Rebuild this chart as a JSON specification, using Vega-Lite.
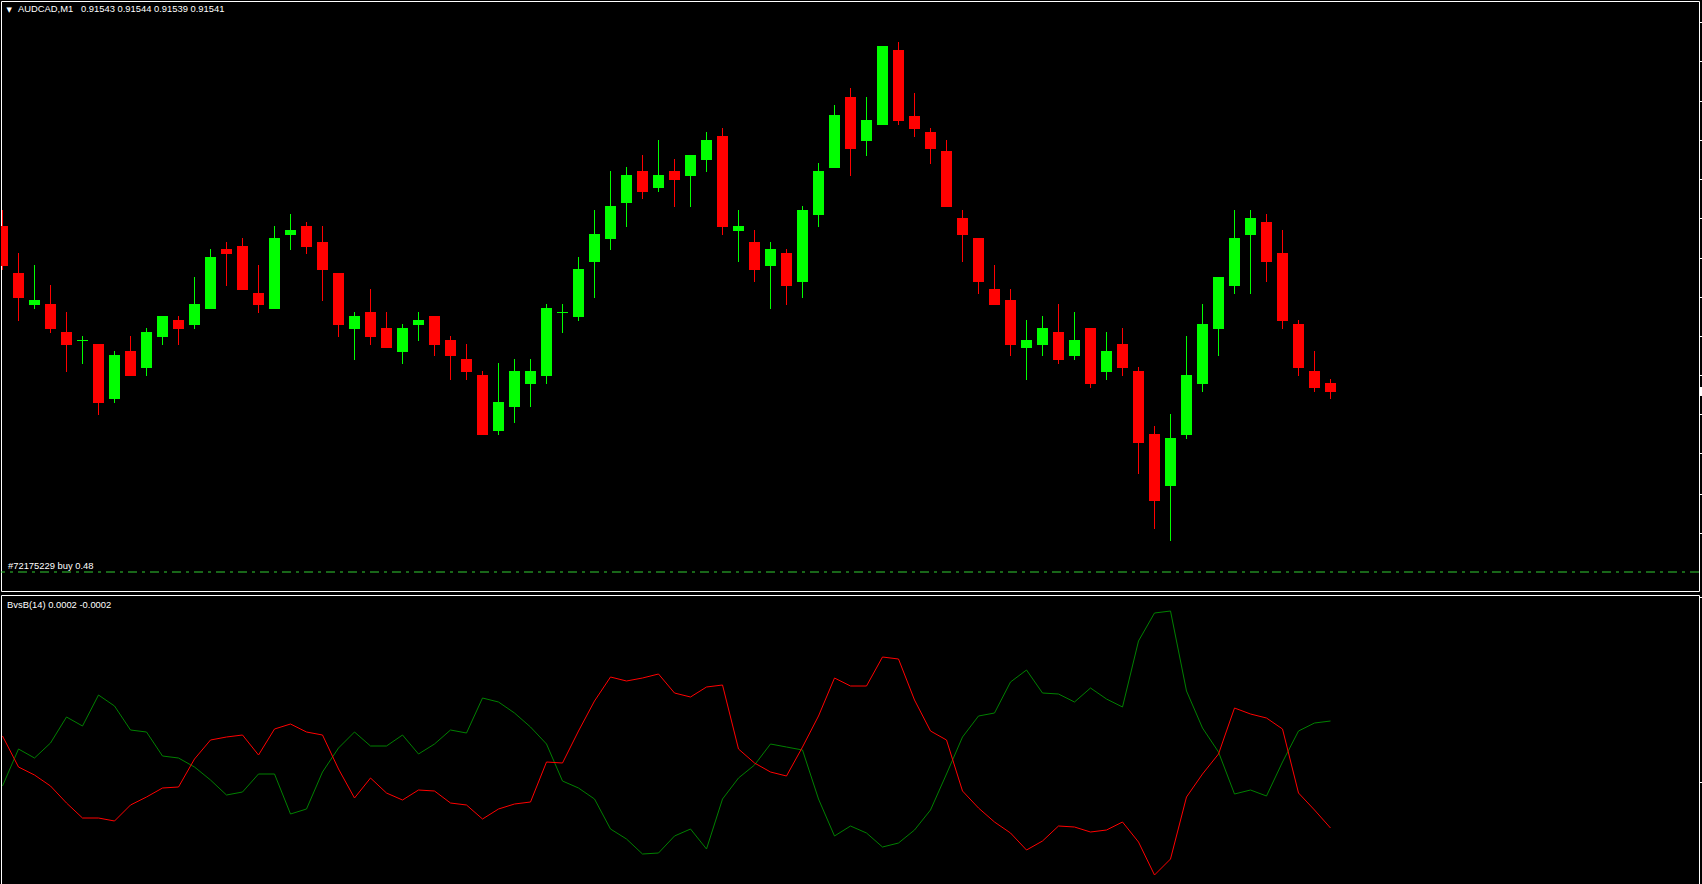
{
  "$schema": "https://vega.github.io/schema/vega-lite/v6.json",
  "background": "#000000",
  "padding": 0,
  "spacing": 2,
  "config": {
    "view": {"stroke": "#ffffff", "strokeWidth": 1, "fill": "#000000"},
    "axis": {"grid": false},
    "scale": {"continuousPadding": 0},
    "text": {"font": "Liberation Sans", "fontSize": 9.4, "color": "#ffffff"}
  },
  "datasets": {
    "bars": [
      {"t":0,"o":0.915825,"h":0.915865,"l":0.915715,"c":0.915725,"bull":-0.000044,"bear":0.000156},
      {"t":1,"o":0.9157075,"h":0.9157575,"l":0.9155875,"c":0.915645,"bull":0.000104,"bear":0.000032},
      {"t":2,"o":0.9156275,"h":0.9157275,"l":0.9156175,"c":0.91564,"bull":0.000068,"bear":0},
      {"t":3,"o":0.91563,"h":0.9156775,"l":0.9155575,"c":0.9155675,"bull":0.000128,"bear":-0.000044},
      {"t":4,"o":0.91556,"h":0.91561,"l":0.91546,"c":0.9155275,"bull":0.000232,"bear":-0.000112},
      {"t":5,"o":0.9155375,"h":0.91555,"l":0.91548,"c":0.91554,"bull":0.000196,"bear":-0.000172},
      {"t":6,"o":0.91553,"h":0.91553,"l":0.9153525,"c":0.9153825,"bull":0.00032,"bear":-0.000172},
      {"t":7,"o":0.9153925,"h":0.9155125,"l":0.9153825,"c":0.9155025,"bull":0.000276,"bear":-0.000184},
      {"t":8,"o":0.9155125,"h":0.91555,"l":0.91545,"c":0.91545,"bull":0.00018,"bear":-0.00012},
      {"t":9,"o":0.91547,"h":0.91557,"l":0.91545,"c":0.91556,"bull":0.000172,"bear":-0.000088},
      {"t":10,"o":0.9155475,"h":0.9156,"l":0.9155275,"c":0.9156,"bull":0.000076,"bear":-0.000052},
      {"t":11,"o":0.91559,"h":0.9156,"l":0.9155275,"c":0.9155675,"bull":0.000068,"bear":-0.000048},
      {"t":12,"o":0.9155775,"h":0.9156975,"l":0.9155675,"c":0.91563,"bull":0.000032,"bear":0.000064},
      {"t":13,"o":0.9156175,"h":0.9157675,"l":0.9156175,"c":0.9157475,"bull":-0.00002,"bear":0.00014},
      {"t":14,"o":0.9157675,"h":0.915785,"l":0.915675,"c":0.915755,"bull":-0.00008,"bear":0.000152},
      {"t":15,"o":0.915775,"h":0.915795,"l":0.915665,"c":0.915665,"bull":-0.000068,"bear":0.00016},
      {"t":16,"o":0.9156575,"h":0.9157275,"l":0.9156075,"c":0.9156275,"bull":0.000004,"bear":0.00008},
      {"t":17,"o":0.9156175,"h":0.915825,"l":0.9156175,"c":0.915795,"bull":0.000004,"bear":0.000184},
      {"t":18,"o":0.9158025,"h":0.915855,"l":0.915765,"c":0.915815,"bull":-0.000156,"bear":0.000204},
      {"t":19,"o":0.915825,"h":0.915835,"l":0.915755,"c":0.9157725,"bull":-0.000136,"bear":0.000172},
      {"t":20,"o":0.915785,"h":0.915825,"l":0.9156375,"c":0.915715,"bull":0.000012,"bear":0.00016},
      {"t":21,"o":0.9157075,"h":0.9157075,"l":0.9155475,"c":0.9155775,"bull":0.000108,"bear":0.000024},
      {"t":22,"o":0.9155675,"h":0.91561,"l":0.91549,"c":0.9156,"bull":0.000172,"bear":-0.000092},
      {"t":23,"o":0.91561,"h":0.9156675,"l":0.9155275,"c":0.9155475,"bull":0.000116,"bear":-0.000012},
      {"t":24,"o":0.91557,"h":0.91561,"l":0.91552,"c":0.91552,"bull":0.000116,"bear":-0.000072},
      {"t":25,"o":0.91551,"h":0.91558,"l":0.91548,"c":0.91557,"bull":0.00016,"bear":-0.0001},
      {"t":26,"o":0.9155775,"h":0.91561,"l":0.9155375,"c":0.91559,"bull":0.000084,"bear":-0.00006},
      {"t":27,"o":0.9156,"h":0.9156,"l":0.9155,"c":0.9155275,"bull":0.000124,"bear":-0.000064},
      {"t":28,"o":0.91554,"h":0.91555,"l":0.91544,"c":0.9155,"bull":0.00018,"bear":-0.000112},
      {"t":29,"o":0.9154925,"h":0.91553,"l":0.91544,"c":0.91546,"bull":0.000168,"bear":-0.00012},
      {"t":30,"o":0.9154525,"h":0.9154625,"l":0.9153025,"c":0.9153025,"bull":0.000308,"bear":-0.000176},
      {"t":31,"o":0.9153125,"h":0.9154825,"l":0.9153025,"c":0.915385,"bull":0.000292,"bear":-0.000136},
      {"t":32,"o":0.9153725,"h":0.9154925,"l":0.9153325,"c":0.9154625,"bull":0.000248,"bear":-0.000116},
      {"t":33,"o":0.91543,"h":0.9154925,"l":0.9153725,"c":0.9154625,"bull":0.000192,"bear":-0.000108},
      {"t":34,"o":0.91545,"h":0.91563,"l":0.91543,"c":0.91562,"bull":0.000124,"bear":0.000052},
      {"t":35,"o":0.9156075,"h":0.91563,"l":0.9155575,"c":0.91561,"bull":-0.000024,"bear":0.000048},
      {"t":36,"o":0.9155975,"h":0.9157475,"l":0.9155875,"c":0.9157175,"bull":-0.000052,"bear":0.000176},
      {"t":37,"o":0.915735,"h":0.915865,"l":0.915645,"c":0.915805,"bull":-0.000096,"bear":0.000296},
      {"t":38,"o":0.9157925,"h":0.9159625,"l":0.915765,"c":0.915875,"bull":-0.000216,"bear":0.000392},
      {"t":39,"o":0.9158825,"h":0.9159725,"l":0.9158225,"c":0.9159525,"bull":-0.000256,"bear":0.000376},
      {"t":40,"o":0.9159625,"h":0.9160025,"l":0.9158925,"c":0.91591,"bull":-0.000316,"bear":0.000388},
      {"t":41,"o":0.91592,"h":0.91604,"l":0.91591,"c":0.9159525,"bull":-0.000312,"bear":0.000404},
      {"t":42,"o":0.9159625,"h":0.9159925,"l":0.9158725,"c":0.91594,"bull":-0.000244,"bear":0.000328},
      {"t":43,"o":0.91595,"h":0.9160025,"l":0.9158725,"c":0.9160025,"bull":-0.000216,"bear":0.000312},
      {"t":44,"o":0.91599,"h":0.91606,"l":0.91596,"c":0.91604,"bull":-0.000296,"bear":0.000352},
      {"t":45,"o":0.91605,"h":0.91607,"l":0.9158025,"c":0.9158225,"bull":-0.000096,"bear":0.00036},
      {"t":46,"o":0.9158125,"h":0.915865,"l":0.915735,"c":0.915825,"bull":-0.000012,"bear":0.000104},
      {"t":47,"o":0.915785,"h":0.915815,"l":0.915685,"c":0.915715,"bull":0.00004,"bear":0.000048},
      {"t":48,"o":0.915725,"h":0.915785,"l":0.9156175,"c":0.9157675,"bull":0.000124,"bear":0.000012},
      {"t":49,"o":0.9157575,"h":0.9157675,"l":0.9156275,"c":0.915675,"bull":0.000112,"bear":-0.000004},
      {"t":50,"o":0.915685,"h":0.915875,"l":0.915645,"c":0.915865,"bull":0.0001,"bear":0.000112},
      {"t":51,"o":0.9158525,"h":0.9159825,"l":0.9158225,"c":0.9159625,"bull":-0.000096,"bear":0.000236},
      {"t":52,"o":0.91597,"h":0.9161275,"l":0.91597,"c":0.9161025,"bull":-0.000244,"bear":0.000388},
      {"t":53,"o":0.9161475,"h":0.91617,"l":0.91595,"c":0.9160175,"bull":-0.000204,"bear":0.000356},
      {"t":54,"o":0.9160375,"h":0.9161475,"l":0.916,"c":0.91609,"bull":-0.000232,"bear":0.000356},
      {"t":55,"o":0.9160775,"h":0.916275,"l":0.9160775,"c":0.916275,"bull":-0.000288,"bear":0.000472},
      {"t":56,"o":0.916265,"h":0.916285,"l":0.9160775,"c":0.9160875,"bull":-0.000272,"bear":0.000464},
      {"t":57,"o":0.9161,"h":0.9161575,"l":0.9160475,"c":0.9160675,"bull":-0.00022,"bear":0.0003},
      {"t":58,"o":0.91606,"h":0.91607,"l":0.91598,"c":0.9160175,"bull":-0.00014,"bear":0.000176},
      {"t":59,"o":0.9160125,"h":0.91604,"l":0.9158725,"c":0.9158725,"bull":0.000004,"bear":0.00014},
      {"t":60,"o":0.915845,"h":0.915865,"l":0.915735,"c":0.9158025,"bull":0.000152,"bear":-0.000064},
      {"t":61,"o":0.915795,"h":0.915795,"l":0.915655,"c":0.915685,"bull":0.000236,"bear":-0.000132},
      {"t":62,"o":0.9156675,"h":0.9157275,"l":0.9156275,"c":0.9156275,"bull":0.000248,"bear":-0.000188},
      {"t":63,"o":0.91564,"h":0.9156675,"l":0.9155,"c":0.9155275,"bull":0.000372,"bear":-0.000232},
      {"t":64,"o":0.91552,"h":0.91559,"l":0.91544,"c":0.91554,"bull":0.00042,"bear":-0.0003},
      {"t":65,"o":0.9155275,"h":0.9156,"l":0.9155,"c":0.91557,"bull":0.000328,"bear":-0.000264},
      {"t":66,"o":0.91556,"h":0.91563,"l":0.91548,"c":0.91549,"bull":0.000324,"bear":-0.000204},
      {"t":67,"o":0.9155,"h":0.91561,"l":0.91549,"c":0.91554,"bull":0.000292,"bear":-0.000208},
      {"t":68,"o":0.91557,"h":0.91557,"l":0.91542,"c":0.91543,"bull":0.000348,"bear":-0.000228},
      {"t":69,"o":0.91546,"h":0.91556,"l":0.91544,"c":0.9155125,"bull":0.000304,"bear":-0.00022},
      {"t":70,"o":0.91553,"h":0.91557,"l":0.91545,"c":0.91547,"bull":0.000272,"bear":-0.000188},
      {"t":71,"o":0.9154625,"h":0.9154725,"l":0.915205,"c":0.9152825,"bull":0.000536,"bear":-0.000268},
      {"t":72,"o":0.915305,"h":0.915325,"l":0.9150675,"c":0.9151375,"bull":0.000648,"bear":-0.0004},
      {"t":73,"o":0.915175,"h":0.915355,"l":0.9150375,"c":0.915295,"bull":0.000656,"bear":-0.000336},
      {"t":74,"o":0.9153025,"h":0.91555,"l":0.9152925,"c":0.9154525,"bull":0.000336,"bear":-0.000088},
      {"t":75,"o":0.91543,"h":0.91563,"l":0.91541,"c":0.91558,"bull":0.000188,"bear":0.000004},
      {"t":76,"o":0.9155675,"h":0.9156975,"l":0.9155,"c":0.9156975,"bull":0.000092,"bear":0.000084},
      {"t":77,"o":0.915675,"h":0.915865,"l":0.915655,"c":0.915795,"bull":-0.000076,"bear":0.000268},
      {"t":78,"o":0.9158025,"h":0.915865,"l":0.915655,"c":0.915845,"bull":-0.00006,"bear":0.000244},
      {"t":79,"o":0.915835,"h":0.915855,"l":0.915685,"c":0.915735,"bull":-0.000084,"bear":0.000228},
      {"t":80,"o":0.9157575,"h":0.915815,"l":0.9155675,"c":0.9155875,"bull":0.000052,"bear":0.000184},
      {"t":81,"o":0.91558,"h":0.91559,"l":0.91545,"c":0.91547,"bull":0.000176,"bear":-0.000072},
      {"t":82,"o":0.9154625,"h":0.9155125,"l":0.91541,"c":0.91542,"bull":0.000208,"bear":-0.00014},
      {"t":83,"o":0.9154325,"h":0.9154425,"l":0.9153925,"c":0.91541,"bull":0.000216,"bear":-0.000212}
    ]
  },
  "vconcat": [
    {
      "width": 1698,
      "height": 590,
      "data": {"name": "bars"},
      "layer": [
        {
          "mark": {"type": "rule", "strokeWidth": 1, "clip": true},
          "encoding": {
            "x": {"field": "t", "type": "quantitative", "scale": {"domain": [-0.09375, 106.03125], "nice": false, "zero": false, "padding": 0}, "axis": null},
            "y": {"field": "h", "type": "quantitative", "scale": {"domain": [0.9149125, 0.9163875], "nice": false, "zero": false, "padding": 0},
                  "axis": {"orient": "right", "labels": false, "domain": false, "ticks": true, "tickColor": "#ffffff", "tickSize": 3, "tickWidth": 1, "title": null,
                           "values": [0.916335, 0.9162375, 0.9161375, 0.91604, 0.9159425, 0.915845, 0.915745, 0.9156475, 0.91555, 0.9154525, 0.915355, 0.9152575, 0.915155, 0.9150575]}},
            "y2": {"field": "l"},
            "color": {"condition": {"test": "datum.c >= datum.o", "value": "#00ff00"}, "value": "#ff0000"}
          }
        },
        {
          "mark": {"type": "bar", "size": 11, "orient": "vertical", "clip": true},
          "encoding": {
            "x": {"field": "t", "type": "quantitative"},
            "y": {"field": "o", "type": "quantitative"},
            "y2": {"field": "c"},
            "color": {"condition": {"test": "datum.c >= datum.o", "value": "#00ff00"}, "value": "#ff0000"}
          }
        },
        {
          "data": {"values": [{}]},
          "mark": {"type": "rule", "color": "#32cd32", "strokeWidth": 1, "strokeDash": [9, 5, 3, 5], "clip": true},
          "encoding": {"y": {"datum": 0.91496, "type": "quantitative"}}
        },
        {
          "data": {"values": [{}]},
          "mark": {"type": "text", "align": "left", "baseline": "alphabetic", "text": "#72175229 buy 0.48"},
          "encoding": {"x": {"datum": 0.34375, "type": "quantitative"}, "y": {"datum": 0.9149675, "type": "quantitative"}}
        },
        {
          "data": {"values": [{}]},
          "mark": {"type": "text", "align": "left", "baseline": "alphabetic", "text": "▼", "font": "DejaVu Sans", "fontSize": 7},
          "encoding": {"x": {"datum": 0.25, "type": "quantitative"}, "y": {"datum": 0.91636, "type": "quantitative"}}
        },
        {
          "data": {"values": [{}]},
          "mark": {"type": "text", "align": "left", "baseline": "alphabetic", "text": "AUDCAD,M1"},
          "encoding": {"x": {"datum": 0.96875, "type": "quantitative"}, "y": {"datum": 0.91636, "type": "quantitative"}}
        },
        {
          "data": {"values": [{}]},
          "mark": {"type": "text", "align": "left", "baseline": "alphabetic", "text": "0.91543 0.91544 0.91539 0.91541"},
          "encoding": {"x": {"datum": 4.90625, "type": "quantitative"}, "y": {"datum": 0.91636, "type": "quantitative"}}
        },
        {
          "data": {"values": [{}]},
          "mark": {"type": "rect", "color": "#ffffff"},
          "encoding": {
            "x": {"datum": 106.03125, "type": "quantitative"},
            "x2": {"datum": 106.21875},
            "y": {"datum": 0.9154225, "type": "quantitative"},
            "y2": {"datum": 0.9154}
          }
        }
      ]
    },
    {
      "width": 1698,
      "height": 292,
      "data": {"name": "bars"},
      "layer": [
        {
          "mark": {"type": "line", "color": "#008000", "strokeWidth": 1, "clip": true},
          "encoding": {
            "x": {"field": "t", "type": "quantitative", "scale": {"domain": [-0.09375, 106.03125], "nice": false, "zero": false, "padding": 0}, "axis": null},
            "y": {"field": "bull", "type": "quantitative", "scale": {"domain": [-0.000448, 0.00072], "nice": false, "zero": false, "padding": 0},
                  "axis": {"orient": "right", "labels": false, "domain": false, "ticks": true, "tickColor": "#ffffff", "tickSize": 3, "tickWidth": 1, "title": null,
                           "values": [0.000712, -0.000028]}}
          }
        },
        {
          "mark": {"type": "line", "color": "#ff0000", "strokeWidth": 1, "clip": true},
          "encoding": {
            "x": {"field": "t", "type": "quantitative"},
            "y": {"field": "bear", "type": "quantitative"}
          }
        },
        {
          "data": {"values": [{}]},
          "mark": {"type": "text", "align": "left", "baseline": "alphabetic", "text": "BvsB(14) 0.0002 -0.0002"},
          "encoding": {"x": {"datum": 0.28125, "type": "quantitative"}, "y": {"datum": 0.000668, "type": "quantitative"}}
        }
      ]
    }
  ]
}
